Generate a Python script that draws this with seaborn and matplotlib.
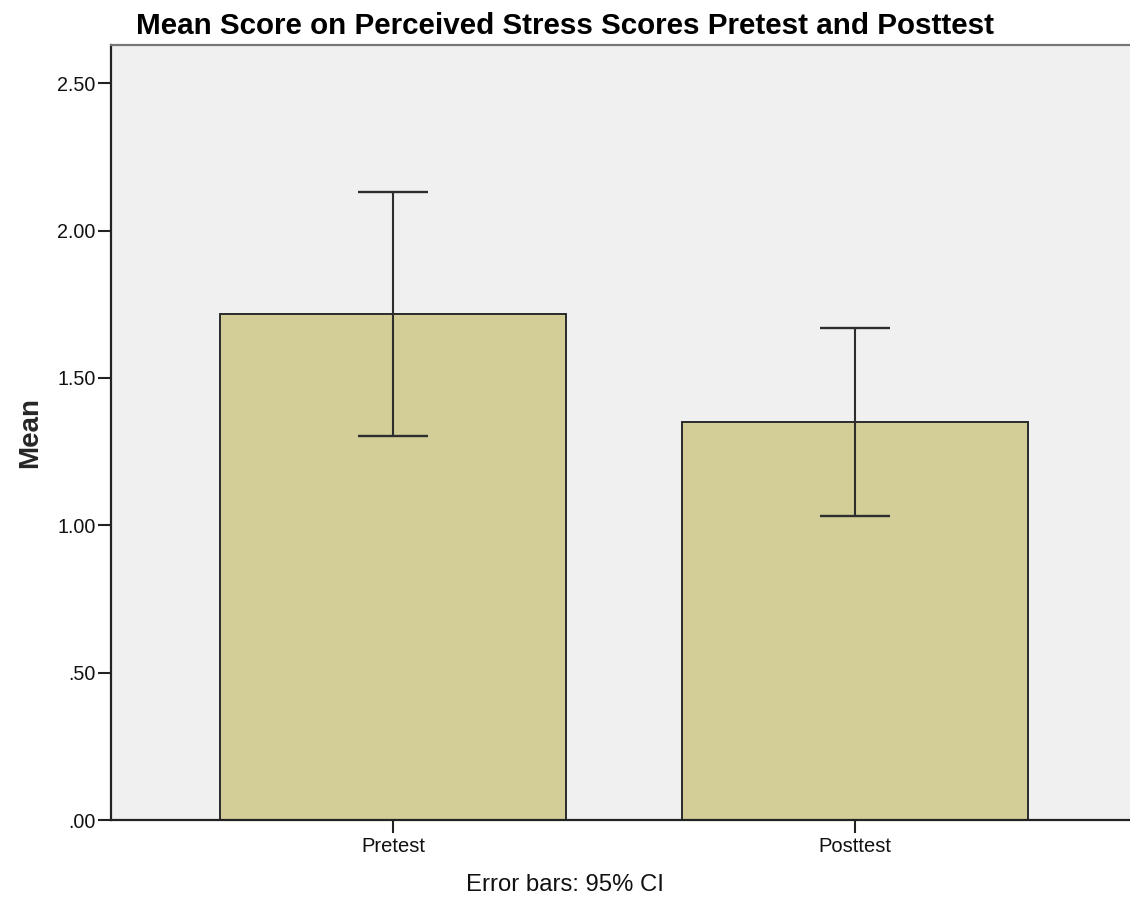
import matplotlib
matplotlib.use("Agg")
import matplotlib.pyplot as plt
import seaborn as sns
import pandas as pd
import numpy as np

categories = ["Pretest", "Posttest"]
means = [1.717, 1.350]
ci_lower = [1.304, 1.032]
ci_upper = [2.131, 1.671]
yticks = [0.0, 0.5, 1.0, 1.5, 2.0, 2.5]
ytick_labels = [".00", ".50", "1.00", "1.50", "2.00", "2.50"]

sns.set_theme(style="white")
plt.rcParams["font.family"] = ["Liberation Sans", "DejaVu Sans"]

df = pd.DataFrame({"Condition": categories, "Mean": means})

fig = plt.figure(figsize=(11.3, 8.99), dpi=100)
ax = fig.add_axes([111 / 1130, 1 - 820 / 899, 1 - 111 / 1130, (820 - 45) / 899])
ax.set_facecolor("#F0F0F0")

sns.barplot(data=df, x="Condition", y="Mean", order=categories,
            color="#D3CE98", saturation=1, width=0.749, errorbar=None,
            edgecolor="#2a2a2a", linewidth=1.4, ax=ax)

xpos = np.arange(len(categories))
m = np.array(means)
yerr = np.vstack([m - np.array(ci_lower), np.array(ci_upper) - m])
ax.errorbar(xpos, m, yerr=yerr, fmt="none", ecolor="#2e2e2e",
            elinewidth=1.5, capsize=25.5, capthick=1.7, zorder=5)

ax.set_xlim(-0.610, 1.595)
ax.set_ylim(0, 2.630)
ax.set_yticks(yticks)
ax.set_yticklabels(ytick_labels)
ax.tick_params(axis="both", which="both", direction="out", length=9.5, width=1.5,
               color="#222222", labelsize=14.2, labelcolor="#111111", pad=1.5,
               left=True, bottom=True)
ax.tick_params(axis="x", labelsize=14.5, pad=3)

for side in ["left", "bottom"]:
    ax.spines[side].set_visible(True)
    ax.spines[side].set_color("#222222")
    ax.spines[side].set_linewidth(1.6)
ax.spines["top"].set_visible(True)
ax.spines["top"].set_color("#777777")
ax.spines["top"].set_linewidth(1.6)
ax.spines["right"].set_visible(False)

ax.set_xlabel("")
ax.set_ylabel("Mean", fontsize=20, fontweight="bold", labelpad=10)

fig.text(0.5, 1 - 26 / 899, "Mean Score on Perceived Stress Scores Pretest and Posttest",
         ha="center", va="center", fontsize=21.3, fontweight="bold", color="#000000")
fig.text(0.5, 1 - 885 / 899, "Error bars: 95% CI", ha="center", va="center",
         fontsize=17.2, color="#111111")

fig.savefig("out.png", dpi=100)
